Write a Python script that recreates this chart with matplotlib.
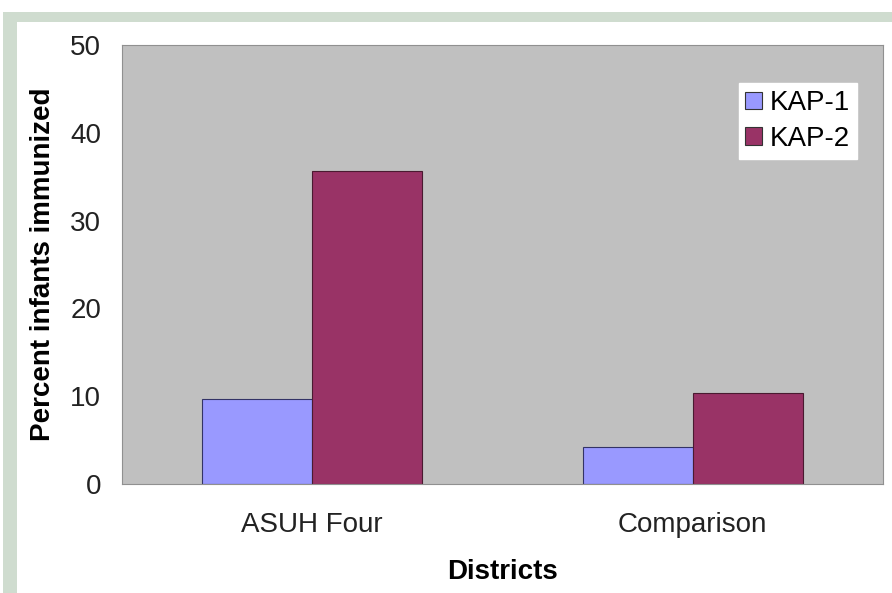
import matplotlib.pyplot as plt
from matplotlib.patches import Rectangle

plt.rcParams['font.family'] = ['Liberation Sans', 'DejaVu Sans']

districts = ['ASUH Four', 'Comparison']
kap1 = [9.7, 4.2]
kap2 = [35.6, 10.4]
yticks = [0, 10, 20, 30, 40, 50]

W, H = 892, 593
fig = plt.figure(figsize=(W / 100, H / 100), dpi=100)
fig.patch.set_facecolor('white')

# green frame around the white panel
green = '#cfdccf'
fig.patches.append(Rectangle((3 / W, 0), 14 / W, 1 - 12 / H, transform=fig.transFigure,
                             facecolor=green, edgecolor='none', zorder=0))
fig.patches.append(Rectangle((3 / W, 1 - 22 / H), 1, 10 / H, transform=fig.transFigure,
                             facecolor=green, edgecolor='none', zorder=0))

ax = fig.add_axes([122 / W, 1 - 484 / H, 761 / W, 439 / H])
ax.set_facecolor('#c0c0c0')

x = range(len(districts))
w = 0.289
ax.bar([i - w / 2 for i in x], kap1, width=w, color='#9999ff', edgecolor='#333366',
       linewidth=0.8, label='KAP-1')
ax.bar([i + w / 2 for i in x], kap2, width=w, color='#993366', edgecolor='#4a1a30',
       linewidth=0.8, label='KAP-2')

fs = 20
ax.set_xlim(-0.5, 1.5)
ax.set_ylim(0, 50)
ax.set_yticks(yticks)
ax.set_xticks(list(x))
ax.set_xticklabels(districts)
ax.tick_params(axis='both', length=0, labelsize=fs, colors='#222222')
ax.tick_params(axis='y', pad=15)
ax.tick_params(axis='x', pad=20)

for s in ax.spines.values():
    s.set_color('#909090')
    s.set_linewidth(0.8)

ax.set_ylabel('Percent infants immunized', fontsize=fs, fontweight='bold', labelpad=10)
ax.set_xlabel('Districts', fontsize=fs, fontweight='bold', labelpad=15)

leg = ax.legend(loc='upper right', bbox_to_anchor=(0.966, 0.913), frameon=True,
                fancybox=False, framealpha=1, edgecolor='white', fontsize=fs,
                handlelength=0.6, handleheight=0.6, handletextpad=0.28,
                labelspacing=0.35, borderpad=0.25, borderaxespad=0)
for h in leg.legend_handles:
    h.set_edgecolor('#333333')

fig.savefig('out.png', dpi=100)
